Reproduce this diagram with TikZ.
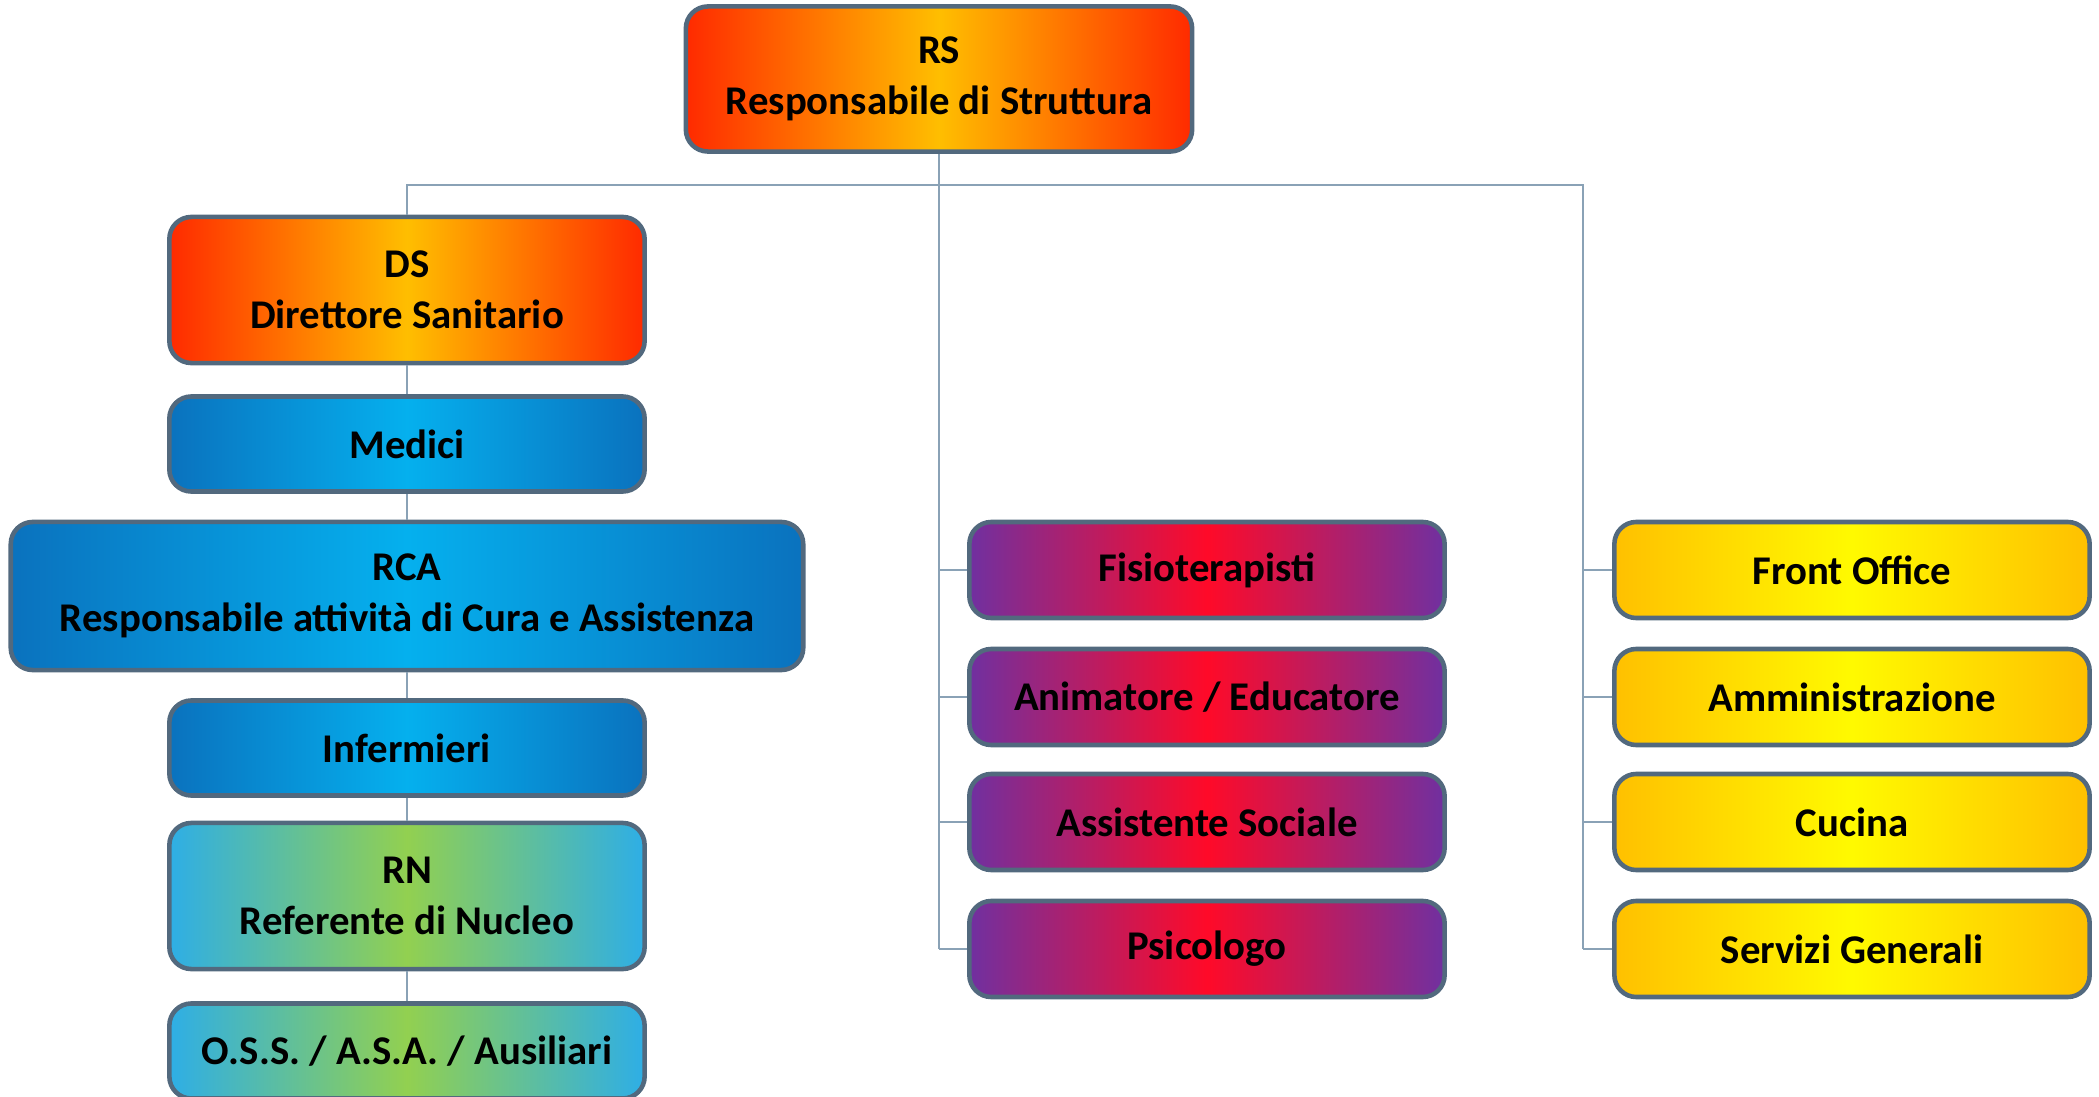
\documentclass[tikz,border=0pt]{standalone}
\usepackage{xcolor}
\usepackage{fontspec}
\usepackage{tikz}
\setmainfont{Carlito}

\definecolor{boxline}{HTML}{52697E}
\definecolor{linkline}{HTML}{8AA2B6}
\definecolor{hotred}{HTML}{FF2A00}
\definecolor{hotgold}{HTML}{FFBE00}
\definecolor{deepblue}{HTML}{0A72BE}
\definecolor{skyblue}{HTML}{05B0EE}
\definecolor{leafgreen}{HTML}{92D050}
\definecolor{lightblue}{HTML}{2EAEE6}
\definecolor{plum}{HTML}{7030A0}
\definecolor{vivid}{HTML}{FF0A28}
\definecolor{amber}{HTML}{FFC000}
\definecolor{lemon}{HTML}{FFFA00}

\begin{document}
\begin{tikzpicture}[x=0.01cm, y=-0.01cm,
	box/.style={rounded corners=0.22cm, draw=boxline, line width=1.3pt, align=center,
		inner sep=0pt, font=\bfseries\fontsize{11.6}{14.5}\selectfont},
	small/.style={box, minimum width=4.75cm, minimum height=0.95cm},
	tall/.style={box, minimum width=4.75cm, minimum height=1.46cm},
	hot/.style={left color=hotred, right color=hotred, middle color=hotgold},
	cool/.style={left color=deepblue, right color=deepblue, middle color=skyblue},
	leaf/.style={left color=lightblue, right color=lightblue, middle color=leafgreen},
	berry/.style={left color=plum, right color=plum, middle color=vivid},
	sunny/.style={left color=amber, right color=amber, middle color=lemon},
	link/.style={draw=linkline, line width=0.6pt}]
	\useasboundingbox (0,0) rectangle (2099,1097);

	% Top
	\node[box, hot, minimum width=5.06cm, minimum height=1.45cm] (rs) at (939,79) {RS\\Responsabile di Struttura};

	% Left column: care staff
	\node[tall, hot] (ds) at (407,290) {DS\\Direttore Sanitario};
	\node[small, cool] (medici) at (407,444) {Medici};
	\node[box, cool, minimum width=7.92cm, minimum height=1.48cm] (rca) at (407,596) {RCA\\Responsabile attivit\`a di Cura e Assistenza};
	\node[small, cool] (infermieri) at (407,748) {Infermieri};
	\node[tall, leaf] (rn) at (407,896) {RN\\Referente di Nucleo};
	\node[small, leaf] (oss) at (407,1051) {O.S.S. / A.S.A. / Ausiliari};

	% Middle column
	\node[small, berry, minimum height=0.96cm] (fisio) at (1207,570) {Fisioterapisti};
	\node[small, berry, minimum height=0.96cm] (anim) at (1207,697) {Animatore / Educatore};
	\node[small, berry, minimum height=0.96cm] (assist) at (1207,822) {Assistente Sociale};
	\node[small, berry, minimum height=0.96cm] (psico) at (1207,949) {Psicologo};

	% Right column
	\node[small, sunny, minimum height=0.96cm] (front) at (1852,570) {Front Office};
	\node[small, sunny, minimum height=0.96cm] (ammin) at (1852,697) {Amministrazione};
	\node[small, sunny, minimum height=0.96cm] (cucina) at (1852,822) {Cucina};
	\node[small, sunny, minimum height=0.96cm] (servizi) at (1852,949) {Servizi Generali};

	% Connectors
	\coordinate (bus) at (939,185);
	\coordinate (midtrunk) at (939,949);
	\coordinate (righttrunk) at (1583,949);
	\draw[link] (rs.south) -- (bus);
	\draw[link] (ds.north) |- (bus) -| (righttrunk);
	\draw[link] (bus) -- (midtrunk);
	\draw[link] (ds) -- (medici) -- (rca) -- (infermieri) -- (rn) -- (oss);
	\draw[link] (fisio.west) -- (fisio.west -| bus);
	\draw[link] (anim.west) -- (anim.west -| bus);
	\draw[link] (assist.west) -- (assist.west -| bus);
	\draw[link] (psico.west) -- (midtrunk);
	\draw[link] (front.west) -- (front.west -| righttrunk);
	\draw[link] (ammin.west) -- (ammin.west -| righttrunk);
	\draw[link] (cucina.west) -- (cucina.west -| righttrunk);
	\draw[link] (servizi.west) -- (righttrunk);
\end{tikzpicture}
\end{document}
